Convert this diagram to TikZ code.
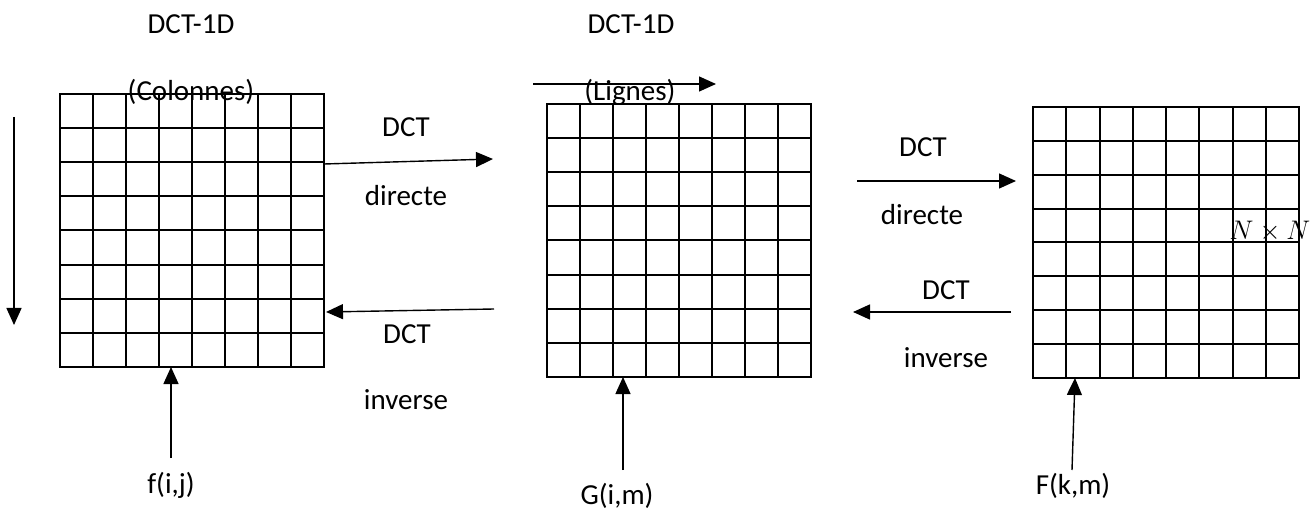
\documentclass[tikz,border=0pt]{standalone}
\usepackage{fontspec}
\setmainfont{Carlito}
\usetikzlibrary{arrows.meta,calc}
\tikzset{matrice/.style={draw,line width=2pt,inner sep=0pt,outer sep=0pt,minimum width=264pt,minimum height=273pt}}
\tikzset{lbl/.style={inner sep=0pt,font=\fontsize{29}{34}\selectfont}}

\begin{document}
\begin{tikzpicture}[x=1pt, y=-1pt, ->, >={Triangle[length=17pt,width=15pt]}, line width=1.4pt]
        \useasboundingbox (0,0) rectangle (1314,510);
        % les trois matrices 8x8
        \node[matrice] (g1) at (192,230.5) {};
        \node[matrice] (g2) at (679,240.5) {};
        \node[matrice,minimum width=266pt,minimum height=271pt] (g3) at (1166,242.5) {};
        \foreach \g in {g1,g2,g3}
          \foreach \k in {1,...,7} {
            \draw[-,line width=2pt] ($(\g.north west)!\k/8!(\g.north east)$) -- ($(\g.south west)!\k/8!(\g.south east)$);
            \draw[-,line width=2pt] ($(\g.north west)!\k/8!(\g.south west)$) -- ($(\g.north east)!\k/8!(\g.south east)$);
          }
        % titres
        \node[lbl] (t1) at (191,24) {DCT-1D};
        \node[lbl] (c1) at (191,92) {(Colonnes)};
        \node[lbl] (t2) at (631,24) {DCT-1D};
        \node[lbl] (c2) at (630,92) {(Lignes)};
        \coordinate (col1) at (14,117);
        \coordinate (col2) at (14,325);
        \draw (col1) -- (col2);
        \coordinate (lig1) at (533,84);
        \coordinate (lig2) at (716,84);
        \draw (lig1) -- (lig2);
        % passage f -> G
        \coordinate (d1) at (493,159);
        \draw ($(g1.north east)+(0,70)$) -- (d1);
        \node[lbl] (dct1) at (406,127) {DCT};
        \node[lbl] (dir1) at (406,196) {directe};
        \coordinate (i1) at (494,309);
        \draw (i1) -- ($(g1.north east)+(2,218)$);
        \node[lbl] (dct2) at (407,334) {DCT};
        \node[lbl] (inv1) at (406,400) {inverse};
        % passage G -> F
        \coordinate (d2a) at (857,181);
        \coordinate (d2b) at (1016,181);
        \draw (d2a) -- (d2b);
        \node[lbl] (dct3) at (923,147) {DCT};
        \node[lbl] (dir2) at (922,215) {directe};
        \coordinate (i2a) at (1011,312);
        \coordinate (i2b) at (853,312);
        \draw (i2a) -- (i2b);
        \node[lbl] (dct4) at (946,290) {DCT};
        \node[lbl] (inv2) at (946,358) {inverse};
        \node[inner sep=0pt,scale=1.08,font=\fontsize{24.88}{30}\selectfont] (nn) at (1270,231) {$N\times N$};
        % coefficients
        \coordinate (f1) at (171,458);
        \draw (f1) -- (f1 |- g1.south);
        \node[lbl] (f) at (171,485) {f(i,j)};
        \coordinate (f2) at (623,470);
        \draw (f2) -- (f2 |- g2.south);
        \node[lbl] (G) at (617,496) {G(i,m)};
        \coordinate (f3) at (1072,470);
        \draw (f3) -- ($(g3.south west)+(42,0)$);
        \node[lbl] (F) at (1073,486) {F(k,m)};
\end{tikzpicture}
\end{document}
